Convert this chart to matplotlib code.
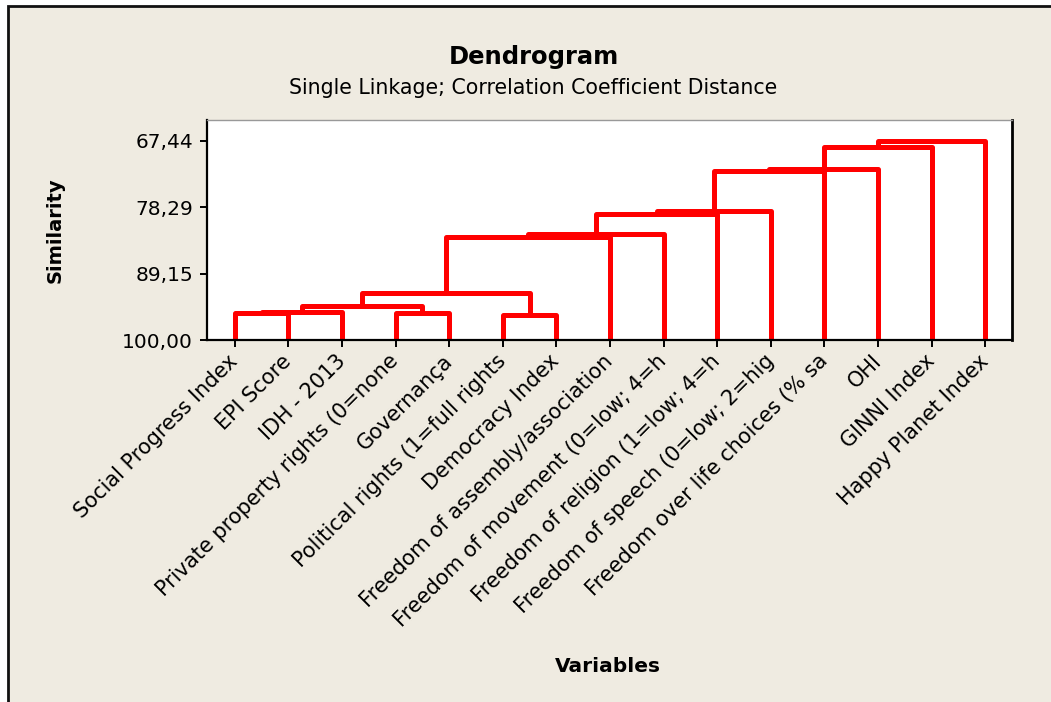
import matplotlib
matplotlib.use("Agg")
import matplotlib.pyplot as plt
from matplotlib.patches import Rectangle

# leaves, in the order they appear on the x axis
labels = [
    "Social Progress Index", "EPI Score", "IDH - 2013",
    "Private property rights (0=none", "Governança",
    "Political rights (1=full rights", "Democracy Index",
    "Freedom of assembly/association", "Freedom of movement (0=low; 4=h",
    "Freedom of religion (1=low; 4=h", "Freedom of speech (0=low; 2=hig",
    "Freedom over life choices (% sa", "OHI", "GINNI Index", "Happy Planet Index",
]

# merges: node ids 0..14 are leaves, new clusters get 15, 16, ...
merge_a = [0, 15, 3, 5, 16, 19, 20, 21, 22, 23, 24, 25, 26, 27]
merge_b = [1, 2, 4, 6, 17, 18, 7, 8, 9, 10, 11, 12, 13, 14]
similarity = [95.64, 95.47, 95.62, 95.87, 94.45, 92.27, 83.12, 82.73,
              79.46, 78.93, 72.34, 72.06, 68.42, 67.44]

y_ticks = [67.44, 78.29, 89.15, 100.00]

BG = "#EFEBE1"
RED = "#FF0000"

fig = plt.figure(figsize=(10.51, 7.02), dpi=100, facecolor="white")
# beige panel with black left/top edge, like the Minitab window
fig.patches.append(Rectangle((8 / 1051, -0.1), 1.2, 1.1 - 6 / 702,
                             transform=fig.transFigure, facecolor=BG,
                             edgecolor="#111111", linewidth=2, zorder=-1))

ax = fig.add_axes([207 / 1051, 1 - 340 / 702, (1011.5 - 207) / 1051, 220 / 702])
ax.set_facecolor("white")

# draw the tree
n = len(labels)
xpos = {i: i + 1.0 for i in range(n)}
ypos = {i: 100.0 for i in range(n)}
for k, (a, b, s) in enumerate(zip(merge_a, merge_b, similarity)):
    xa, ya = xpos[a], ypos[a]
    xb, yb = xpos[b], ypos[b]
    ax.plot([xa, xa, xb, xb], [ya, s, s, yb], color=RED, lw=3.6,
            solid_joinstyle="round", solid_capstyle="round")
    xpos[n + k] = (xa + xb) / 2
    ypos[n + k] = s

ax.set_xlim(0.48, 15.49)
ax.set_ylim(100, 64.06)

ax.set_yticks(y_ticks)
ax.set_yticklabels([f"{v:.2f}".replace(".", ",") for v in y_ticks], fontsize=14.5)
ax.set_xticks(range(1, n + 1))
ax.set_xticklabels(labels, rotation=45, ha="right", va="center",
                   rotation_mode="anchor", fontsize=15)

for sp in ax.spines.values():
    sp.set_linewidth(1.6)
ax.spines["top"].set_color("#999999")
ax.spines["top"].set_linewidth(1)
ax.spines["right"].set_linewidth(2)
ax.tick_params(length=5, width=1.4)
ax.tick_params(axis="y", pad=5)
ax.tick_params(axis="x", pad=8)

fig.text(534 / 1051, 1 - 57 / 702, "Dendrogram", ha="center", va="center",
         fontsize=17.5, fontweight="bold")
fig.text(533 / 1051, 1 - 88 / 702, "Single Linkage; Correlation Coefficient Distance",
         ha="center", va="center", fontsize=14.8)
fig.text(55 / 1051, 1 - 230 / 702, "Similarity", ha="center", va="center",
         rotation=90, fontsize=14, fontweight="bold")
fig.text(608 / 1051, 1 - 666 / 702, "Variables", ha="center", va="center",
         fontsize=14.5, fontweight="bold")

fig.savefig("out.png", dpi=100, facecolor=fig.get_facecolor())
